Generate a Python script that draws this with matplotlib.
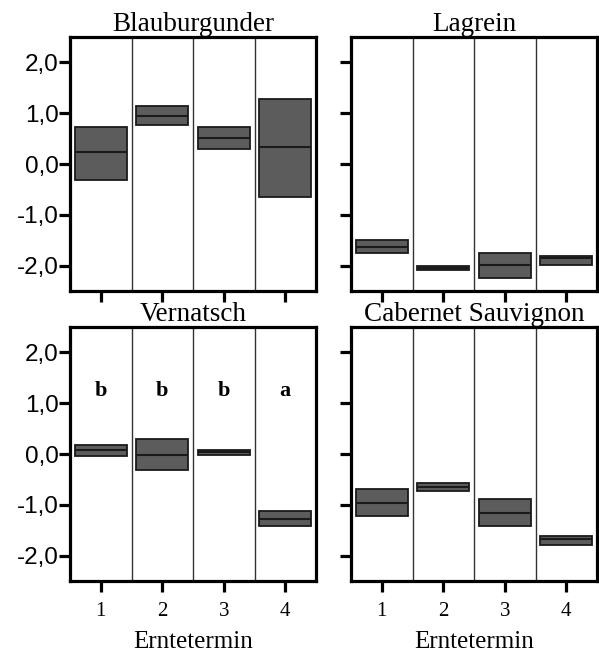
import matplotlib
matplotlib.use("Agg")
import matplotlib.pyplot as plt

varieties = ["Blauburgunder", "Lagrein", "Vernatsch", "Cabernet Sauvignon"]
termine = [1, 2, 3, 4]
tick_vals = [-2.0, -1.0, 0.0, 1.0, 2.0]
tick_labels = ["-2,0", "-1,0", "0,0", "1,0", "2,0"]

# box lower, upper, median per Erntetermin
lower = {
    "Blauburgunder": [-0.31, 0.76, 0.29, -0.65],
    "Lagrein": [-1.76, -2.09, -2.24, -1.99],
    "Vernatsch": [-0.03, -0.31, -0.02, -1.41],
    "Cabernet Sauvignon": [-1.22, -0.72, -1.41, -1.79],
}
upper = {
    "Blauburgunder": [0.73, 1.14, 0.73, 1.27],
    "Lagrein": [-1.50, -2.00, -1.76, -1.81],
    "Vernatsch": [0.18, 0.30, 0.08, -1.12],
    "Cabernet Sauvignon": [-0.68, -0.58, -0.89, -1.62],
}
median = {
    "Blauburgunder": [0.23, 0.95, 0.52, 0.33],
    "Lagrein": [-1.63, -2.05, -1.98, -1.86],
    "Vernatsch": [0.08, -0.01, 0.03, -1.28],
    "Cabernet Sauvignon": [-0.96, -0.65, -1.16, -1.67],
}
letters_vernatsch = ["b", "b", "b", "a"]
letter_y = 1.25

W, H = 599, 653
fig = plt.figure(figsize=(W / 100, H / 100), dpi=100)

positions = {
    "Blauburgunder": (70, 37),
    "Lagrein": (351, 37),
    "Vernatsch": (70, 327),
    "Cabernet Sauvignon": (351, 327),
}
aw, ah = 246, 254

serif = "Liberation Serif"
sans = "Liberation Sans"
box_color = "#5c5c5c"
edge = "#1a1a1a"
bw = 0.85

for name in varieties:
    x0, y0 = positions[name]
    ax = fig.add_axes([x0 / W, 1 - (y0 + ah) / H, aw / W, ah / H])
    lo, up, med = lower[name], upper[name], median[name]
    heights = [u - l for u, l in zip(up, lo)]
    ax.bar(termine, heights, bottom=lo, width=bw, color=box_color,
           edgecolor=edge, linewidth=1.3, zorder=3)
    for t, m in zip(termine, med):
        ax.plot([t - bw / 2, t + bw / 2], [m, m], color=edge, lw=1.5,
                zorder=4, solid_capstyle="butt")
    for s in [1.5, 2.5, 3.5]:
        ax.axvline(s, color="#333333", lw=1.0, zorder=1)
    ax.set_xlim(0.5, 4.5)
    ax.set_ylim(-2.5, 2.5)
    for sp in ax.spines.values():
        sp.set_linewidth(2.3)
        sp.set_color("black")
    ax.tick_params(axis="both", which="major", width=2.3, length=8,
                   color="black", direction="out")
    ax.set_yticks(tick_vals)
    ax.set_xticks(termine)
    left_col = name in ("Blauburgunder", "Vernatsch")
    bottom_row = name in ("Vernatsch", "Cabernet Sauvignon")
    if left_col:
        ax.set_yticklabels(tick_labels, fontsize=17.5, family=sans)
        ax.tick_params(axis="y", pad=0)
    else:
        ax.set_yticklabels([])
    if bottom_row:
        ax.set_xticklabels([str(t) for t in termine], fontsize=15, family=serif)
        ax.tick_params(axis="x", pad=7)
        ax.set_xlabel("Erntetermin", fontsize=18, family=serif, labelpad=7)
    else:
        ax.set_xticklabels([])
    ax.set_title(name, fontsize=19.5, family=serif, pad=4)
    if name == "Vernatsch":
        for t, L in zip(termine, letters_vernatsch):
            ax.text(t, letter_y, L, ha="center", va="center", fontsize=16,
                    fontweight="bold", family=serif, zorder=5)

fig.savefig("out.png", dpi=100)
